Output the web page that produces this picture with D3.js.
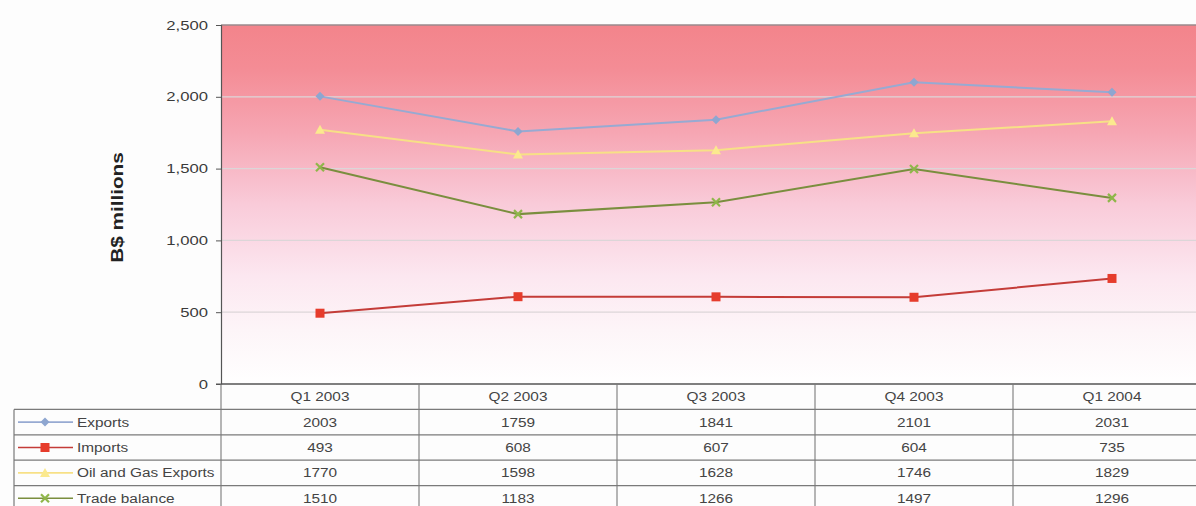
<!DOCTYPE html>
<html>
<head>
<meta charset="utf-8">
<script src="https://cdn.jsdelivr.net/npm/d3@7/dist/d3.min.js"></script>
<style>
  html, body { margin: 0; padding: 0; background: #fdfdfd; }
  svg { display: block; overflow: hidden; font-family: "Liberation Sans", Arial, sans-serif; }
</style>
</head>
<body>
<svg id="chart" width="1196" height="506"></svg>
<script>
// Quarterly trade figures, B$ millions
const quarters = ["Q1 2003", "Q2 2003", "Q3 2003", "Q4 2003", "Q1 2004"];
const exportsVals = [2003, 1759, 1841, 2101, 2031];
const importsVals = [493, 608, 607, 604, 735];
const oilGasVals = [1770, 1598, 1628, 1746, 1829];
const tradeBalanceVals = [1510, 1183, 1266, 1497, 1296];
const yTicks = [0, 500, 1000, 1500, 2000, 2500];

const series = [
  { name: "Exports", values: exportsVals, line: "#97aad2", fill: "#8ea6d0", marker: "diamond" },
  { name: "Imports", values: importsVals, line: "#c43c38", fill: "#e63c2c", marker: "square" },
  { name: "Oil and Gas Exports", values: oilGasVals, line: "#f7e086", fill: "#fbe98e", marker: "triangle" },
  { name: "Trade balance", values: tradeBalanceVals, line: "#7a8e3e", fill: "#8fb64a", marker: "cross" }
];

const svg = d3.select("#chart");
const plotLeft = 221, plotTop = 25, plotBottom = 384;
const bandW = 198;
const plotRight = plotLeft + bandW * quarters.length;

const x = d3.scaleBand().domain(quarters).range([plotLeft, plotRight]);
const y = d3.scaleLinear().domain([0, 2500]).range([plotBottom, plotTop]);

// widen text glyphs horizontally by factor k
function widen(sel, k) {
  sel.each(function () {
    const w = this.getComputedTextLength();
    d3.select(this).attr("textLength", w * k).attr("lengthAdjust", "spacingAndGlyphs");
  });
}

// plot background gradient
const defs = svg.append("defs");
const grad = defs.append("linearGradient").attr("id", "bg").attr("x1", 0).attr("y1", 0).attr("x2", 0).attr("y2", 1);
[[0, "#f3848b"], [0.12, "#f48c95"], [0.3, "#f6a6b3"], [0.5, "#f9cbd9"], [0.7, "#fce7f0"], [0.85, "#fdf5f8"], [1, "#ffffff"]]
  .forEach(([o, c]) => grad.append("stop").attr("offset", o).attr("stop-color", c));

svg.append("rect").attr("x", plotLeft).attr("y", plotTop).attr("width", plotRight - plotLeft).attr("height", plotBottom - plotTop)
  .attr("fill", "url(#bg)");

// gridlines
svg.append("g").selectAll("line").data(yTicks.filter(t => t > 0 && t < 2500)).join("line")
  .attr("x1", plotLeft).attr("x2", plotRight)
  .attr("y1", d => y(d)).attr("y2", d => y(d))
  .attr("stroke", "#dcd6d8").attr("stroke-width", 1.2);

// top border
svg.append("line").attr("x1", plotLeft).attr("x2", plotRight).attr("y1", plotTop).attr("y2", plotTop)
  .attr("stroke", "#9a8a8c").attr("stroke-width", 1.5);

// y axis
const yAxis = svg.append("g").attr("transform", `translate(${plotLeft},0)`)
  .call(d3.axisLeft(y).tickValues(yTicks).tickFormat(d3.format(",")).tickSize(5).tickPadding(8));
yAxis.select(".domain").attr("stroke", "#555").attr("stroke-width", 1.2);
yAxis.selectAll(".tick line").attr("stroke", "#555");
yAxis.selectAll("text").attr("font-size", 13).attr("fill", "#3a3a3a").call(widen, 1.28);

const yTitle = svg.append("text").attr("transform", `translate(123,${(plotTop + plotBottom) / 2 + 3}) rotate(-90)`)
  .attr("text-anchor", "middle").attr("font-size", 17).attr("font-weight", "bold").attr("fill", "#222")
  .text("B$ millions");
widen(yTitle, 1.22);

// series lines and markers
const line = d3.line().x((d, i) => x(quarters[i]) + x.bandwidth() / 2).y(d => y(d));

function drawMarker(g, type, cx, cy, s) {
  if (type === "square") {
    g.append("rect").attr("x", cx - 4.5).attr("y", cy - 4.5).attr("width", 9).attr("height", 9).attr("fill", s.fill);
  } else if (type === "diamond") {
    g.append("path").attr("d", `M${cx},${cy - 4.5}L${cx + 4.5},${cy}L${cx},${cy + 4.5}L${cx - 4.5},${cy}Z`).attr("fill", s.fill);
  } else if (type === "triangle") {
    g.append("path").attr("d", `M${cx},${cy - 5}L${cx + 5},${cy + 4}L${cx - 5},${cy + 4}Z`).attr("fill", s.fill);
  } else {
    g.append("path").attr("d", `M${cx - 4},${cy - 4}L${cx + 4},${cy + 4}M${cx - 4},${cy + 4}L${cx + 4},${cy - 4}`)
      .attr("stroke", s.fill).attr("stroke-width", 2.2);
  }
}

series.forEach(s => {
  const g = svg.append("g");
  g.append("path").datum(s.values).attr("d", line).attr("fill", "none")
    .attr("stroke", s.line).attr("stroke-width", 2);
  s.values.forEach((v, i) => drawMarker(g, s.marker, x(quarters[i]) + x.bandwidth() / 2, y(v), s));
});

// x axis line
svg.append("line").attr("x1", plotLeft).attr("x2", plotRight).attr("y1", plotBottom).attr("y2", plotBottom)
  .attr("stroke", "#555").attr("stroke-width", 1.5);
svg.append("line").attr("x1", plotLeft - 5).attr("x2", plotLeft).attr("y1", plotBottom).attr("y2", plotBottom).attr("stroke", "#555");

// data table
const tableLeft = 14, rowH = 25.4;
const headerBottom = plotBottom + rowH;
const rowTops = series.map((s, i) => headerBottom + i * rowH);
const tableBottom = headerBottom + series.length * rowH;
const tg = svg.append("g");
const gridColor = "#7a7a7a";
const tableFont = 12, tableWiden = 1.28;

// horizontal rules
[headerBottom, ...rowTops.slice(1), tableBottom].forEach(yy => {
  tg.append("line").attr("x1", tableLeft).attr("x2", plotRight).attr("y1", yy).attr("y2", yy)
    .attr("stroke", gridColor).attr("stroke-width", 1.3);
});
// vertical rules
tg.append("line").attr("x1", tableLeft).attr("x2", tableLeft).attr("y1", headerBottom).attr("y2", tableBottom)
  .attr("stroke", gridColor).attr("stroke-width", 1.2);
quarters.forEach(q => {
  tg.append("line").attr("x1", x(q)).attr("x2", x(q)).attr("y1", plotBottom).attr("y2", tableBottom)
    .attr("stroke", gridColor).attr("stroke-width", 1.1);
});

// header labels
tg.selectAll("text.q").data(quarters).join("text").attr("class", "q")
  .attr("x", d => x(d) + x.bandwidth() / 2).attr("y", plotBottom + rowH / 2 + 4.5)
  .attr("text-anchor", "middle").attr("font-size", tableFont).attr("fill", "#444").text(d => d)
  .call(widen, tableWiden);

// rows with legend keys and values
series.forEach((s, i) => {
  const cy = rowTops[i] + rowH / 2;
  tg.append("line").attr("x1", 18).attr("x2", 73).attr("y1", cy).attr("y2", cy)
    .attr("stroke", s.line).attr("stroke-width", 1.6);
  drawMarker(tg, s.marker, 45, cy, s);
  tg.append("text").attr("x", 77).attr("y", cy + 4.5).attr("font-size", tableFont).attr("fill", "#444").text(s.name)
    .call(widen, tableWiden);
  s.values.forEach((v, j) => {
    tg.append("text").attr("x", x(quarters[j]) + x.bandwidth() / 2).attr("y", cy + 4.5)
      .attr("text-anchor", "middle").attr("font-size", tableFont).attr("fill", "#444").text(v)
      .call(widen, tableWiden);
  });
});
</script>
</body>
</html>
